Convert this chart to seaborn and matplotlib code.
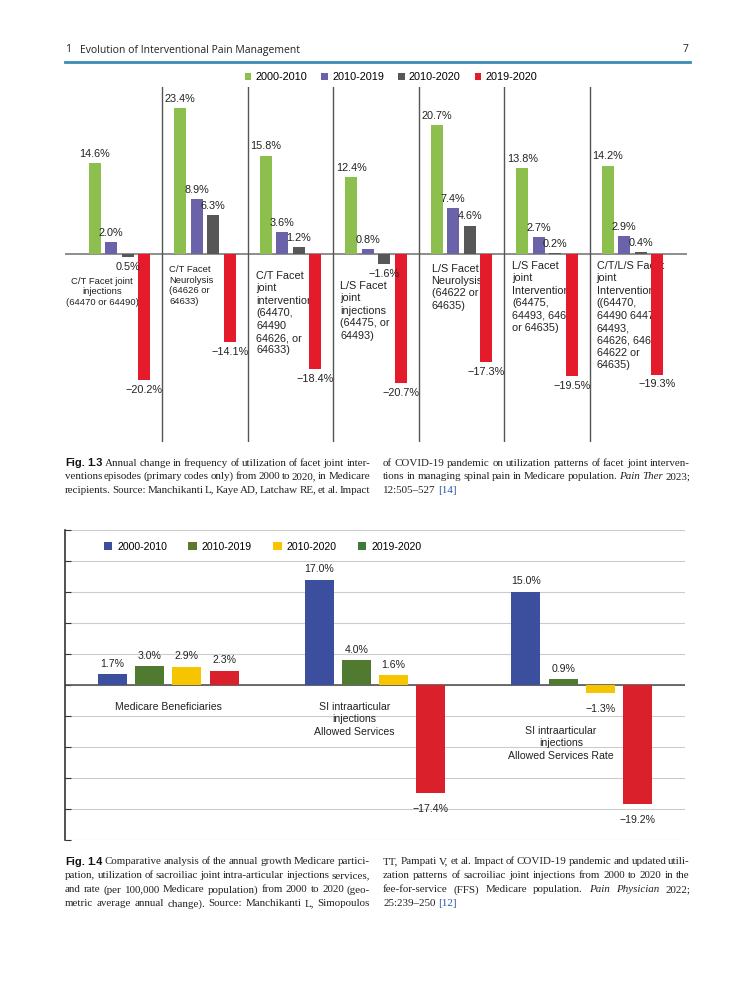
import matplotlib
matplotlib.use("Agg")
import matplotlib.pyplot as plt
from matplotlib.patches import Patch
import seaborn as sns
import pandas as pd

# ---------------- data: Fig 1.3 ----------------
periods_a = ["2000-2010", "2010-2019", "2010-2020", "2019-2020"]
groups_a = [
    "C/T Facet joint\ninjections\n(64470 or 64490)",
    "C/T Facet\nNeurolysis\n(64626 or\n64633)",
    "C/T Facet\njoint\ninterventions\n(64470,\n64490\n64626, or\n64633)",
    "L/S Facet\njoint\ninjections\n(64475, or\n64493)",
    "L/S Facet\nNeurolysis\n(64622 or\n64635)",
    "L/S Facet\njoint\nInterventions\n(64475,\n64493, 64622\nor 64635)",
    "C/T/L/S Facet\njoint\nInterventions\n((64470,\n64490 64475,\n64493,\n64626, 64633\n64622 or\n64635)",
]
a_2000_2010 = [14.6, 23.4, 15.8, 12.4, 20.7, 13.8, 14.2]
a_2010_2019 = [2.0, 8.9, 3.6, 0.8, 7.4, 2.7, 2.9]
a_2010_2020 = [-0.5, 6.3, 1.2, -1.6, 4.6, 0.2, 0.4]
a_2019_2020 = [-20.2, -14.1, -18.4, -20.7, -17.3, -19.5, -19.3]
# printed labels (the first grey bar is printed without sign in the source)
a_2010_2020_labels = ["0.5%", "6.3%", "1.2%", "\u22121.6%", "4.6%", "0.2%", "0.4%"]
colors_a = ["#8dbf4e", "#6a63aa", "#575757", "#e31b2b"]

# ---------------- data: Fig 1.4 ----------------
periods_b = ["2000-2010", "2010-2019", "2010-2020", "2019-2020"]
groups_b = [
    "Medicare Beneficiaries",
    "SI intraarticular\ninjections\nAllowed Services",
    "SI intraarticular\ninjections\nAllowed Services Rate",
]
b_2000_2010 = [1.7, 17.0, 15.0]
b_2010_2019 = [3.0, 4.0, 0.9]
b_2010_2020 = [2.9, 1.6, -1.3]
b_2019_2020 = [2.3, -17.4, -19.2]
colors_b = ["#3c4f9f", "#4f7a2f", "#f6c500", "#d9202b"]
legend_colors_b = ["#3c4f9f", "#5b7a2c", "#f6c500", "#3e7a3a"]


def fmt(v):
    return f"{v:.1f}%".replace("-", "\u2212")


def long_df(groups, periods, series):
    rows = []
    for p, vals in zip(periods, series):
        for g, v in zip(groups, vals):
            rows.append({"group": g, "period": p, "value": v})
    return pd.DataFrame(rows)


W, H = 752, 1000
fig = plt.figure(figsize=(W / 100, H / 100), dpi=100)
sans = "Liberation Sans"
serif = "Liberation Serif"


def fx(px):
    return px / W


def fy(py):
    return 1 - py / H


# ---------------- page header ----------------
fig.text(fx(65), fy(50), "1", fontsize=7.5, family="Open Sans", va="center", color="#222")
fig.text(fx(80), fy(50), "Evolution of Interventional Pain Management", fontsize=7.5,
         family="Open Sans", va="center", color="#222")
fig.text(fx(688), fy(50), "7", fontsize=7.5, family="Open Sans", va="center", ha="right", color="#222")
fig.add_artist(plt.Line2D([fx(65), fx(690)], [fy(62), fy(62)], color="#3a8cb6", lw=2))

# ---------------- Fig 1.3 chart ----------------
ax1 = fig.add_axes([fx(65), fy(442), fx(687) - fx(65), fy(87) - fy(442)])
df_a = long_df(groups_a, periods_a, [a_2000_2010, a_2010_2019, a_2010_2020, a_2019_2020])
sns.barplot(data=df_a, x="group", y="value", hue="period", order=groups_a, hue_order=periods_a,
            palette=colors_a, saturation=1, width=0.77, gap=0.27, legend=False, ax=ax1)
ax1.set_xlim(-0.637, 6.637)
ax1.set_ylim(-30.1, 26.8)
ax1.axis("off")
ax1.axhline(0, color="#7a7a7a", lw=1.2, zorder=2)
for i in range(len(groups_a) - 1):
    ax1.axvline(i + 0.5, color="#555555", lw=1, zorder=2)

labels_a = [[fmt(v) for v in a_2000_2010], [fmt(v) for v in a_2010_2019],
            a_2010_2020_labels, [fmt(v) for v in a_2019_2020]]
for cont, labs in zip(ax1.containers, labels_a):
    for bar, lab in zip(cont, labs):
        bar.set_zorder(3)
        h = bar.get_height()
        xc = bar.get_x() + bar.get_width() / 2
        if h >= 0:
            ax1.annotate(lab, (xc, h), xytext=(0, 3), textcoords="offset points",
                         ha="center", va="bottom", fontsize=7.8, family=sans, color="#222", zorder=4)
        else:
            ax1.annotate(lab, (xc, h), xytext=(0, -3.5), textcoords="offset points",
                         ha="center", va="top", fontsize=7.8, family=sans, color="#222", zorder=4)

# category texts sit under the zero line (drawn behind the red bars)
cat_dx = [-0.2, -0.42, -0.4, -0.42, -0.35, -0.41, -0.42]
cat_y = [-3.6, -1.7, -2.7, -4.3, -1.5, -1.1, -1.1]
cat_fs = [6.8, 6.8, 7.8, 7.8, 7.8, 7.8, 7.8]
cat_ls = [1.25, 1.25, 1.3, 1.3, 1.3, 1.3, 1.3]
for i, g in enumerate(groups_a):
    ax1.text(i + cat_dx[i], cat_y[i], g, ha="center" if i == 0 else "left", va="top",
             multialignment="center" if i == 0 else "left",
             fontsize=cat_fs[i], family=sans, color="#222", zorder=1, linespacing=cat_ls[i])

handles_a = [Patch(facecolor=c, edgecolor="none", label=p) for c, p in zip(colors_a, periods_a)]
fig.legend(handles=handles_a, loc="center", bbox_to_anchor=(fx(391), fy(77)), ncol=4,
           frameon=False, handlelength=0.6, handleheight=0.6, handletextpad=0.4,
           columnspacing=1.3, prop={"family": sans, "size": 7.8})

# ---------------- Fig 1.4 chart ----------------
ax2 = fig.add_axes([fx(65), fy(840), fx(685) - fx(65), fy(530) - fy(840)])
df_b = long_df(groups_b, periods_b, [b_2000_2010, b_2010_2019, b_2010_2020, b_2019_2020])
sns.barplot(data=df_b, x="group", y="value", hue="period", order=groups_b, hue_order=periods_b,
            palette=colors_b, saturation=1, width=0.72, gap=0.22, legend=False, ax=ax2)
ax2.set_xlim(-0.5, 2.5)
ax2.set_ylim(-25, 25)
ax2.set_yticks(range(-25, 30, 5))
ax2.set_yticklabels([])
ax2.set_xticks([])
ax2.set_xlabel("")
ax2.set_ylabel("")
for s in ["top", "right", "bottom"]:
    ax2.spines[s].set_visible(False)
ax2.spines["left"].set_color("#333333")
ax2.spines["left"].set_linewidth(1.2)
ax2.tick_params(axis="y", direction="in", length=4, color="#333333")
ax2.yaxis.grid(True, color="#cccccc", lw=0.8)
ax2.set_axisbelow(True)
ax2.axhline(0, color="#555555", lw=1.2, zorder=2)

for cont in ax2.containers:
    for bar in cont:
        bar.set_zorder(3)
        h = bar.get_height()
        xc = bar.get_x() + bar.get_width() / 2
        if h >= 0:
            ax2.annotate(fmt(h), (xc, h), xytext=(0, 4), textcoords="offset points",
                         ha="center", va="bottom", fontsize=7.6, family=sans, color="#222")
        else:
            ax2.annotate(fmt(h), (xc, h), xytext=(0, -8), textcoords="offset points",
                         ha="center", va="top", fontsize=7.6, family=sans, color="#222")

cat_b_x = [0.0, 0.9, 1.9]
cat_b_y = [-2.7, -2.7, -6.6]
for i, g in enumerate(groups_b):
    ax2.text(cat_b_x[i], cat_b_y[i], g, ha="center", va="top", multialignment="center",
             fontsize=7.6, family=sans, color="#222", linespacing=1.3)

handles_b = [Patch(facecolor=c, edgecolor="none", label=p) for c, p in zip(legend_colors_b, periods_b)]
ax2.legend(handles=handles_b, loc="center left", bbox_to_anchor=(fx(94), fy(547)),
           bbox_transform=fig.transFigure, ncol=4, frameon=False, handlelength=0.8,
           handleheight=0.8, handletextpad=0.5, columnspacing=2.0,
           prop={"family": sans, "size": 7.6})

# ---------------- captions (justified two-column text) ----------------
renderer = fig.canvas.get_renderer()
CAP_FS = 7.9
STYLES = {
    "b": dict(family=sans, weight="bold", color="#111"),
    "n": dict(family=serif, color="#222"),
    "i": dict(family=serif, style="italic", color="#222"),
    "l": dict(family=serif, color="#2a55a5"),
}


def text_width(t, st):
    tmp = fig.text(0, 0, t, fontsize=CAP_FS, **STYLES[st])
    w = tmp.get_window_extent(renderer).width
    tmp.remove()
    return w


def draw_line(x0, x1, y, segments, justify=True):
    words = []
    for txt, st in segments:
        for w in txt.split(" "):
            if w:
                words.append((w, st))
    widths = [text_width(w, st) for w, st in words]
    space = text_width("a a", "n") - text_width("aa", "n")
    if justify and len(words) > 1:
        space = (x1 - x0 - sum(widths)) / (len(words) - 1)
    x = x0
    for (w, st), wd in zip(words, widths):
        fig.text(fx(x), fy(y), w, fontsize=CAP_FS, va="center", ha="left", **STYLES[st])
        x += wd + space


cap13_left = [
    [("Fig. 1.3", "b"), ("Annual change in frequency of utilization of facet joint inter-", "n")],
    [("ventions episodes (primary codes only) from 2000 to 2020, in Medicare", "n")],
    [("recipients. Source: Manchikanti L, Kaye AD, Latchaw RE, et al. Impact", "n")],
]
cap13_right = [
    [("of COVID-19 pandemic on utilization patterns of facet joint interven-", "n")],
    [("tions in managing spinal pain in Medicare population.", "n"), ("Pain Ther", "i"), ("2023;", "n")],
    [("12:505\u2013527", "n"), ("[14]", "l")],
]
cap14_left = [
    [("Fig. 1.4", "b"), ("Comparative analysis of the annual growth Medicare partici-", "n")],
    [("pation, utilization of sacroiliac joint intra-articular injections services,", "n")],
    [("and rate (per 100,000 Medicare population) from 2000 to 2020 (geo-", "n")],
    [("metric average annual change). Source: Manchikanti L, Simopoulos", "n")],
]
cap14_right = [
    [("TT, Pampati V, et al. Impact of COVID-19 pandemic and updated utili-", "n")],
    [("zation patterns of sacroiliac joint injections from 2000 to 2020 in the", "n")],
    [("fee-for-service (FFS) Medicare population.", "n"), ("Pain Physician", "i"), ("2022;", "n")],
    [("25:239\u2013250", "n"), ("[12]", "l")],
]

for k, seg in enumerate(cap13_left):
    draw_line(65, 370, 463 + 13.6 * k, seg)
for k, seg in enumerate(cap13_right):
    draw_line(383, 690, 463 + 13.6 * k, seg, justify=k < len(cap13_right) - 1)
for k, seg in enumerate(cap14_left):
    draw_line(65, 370, 862 + 14 * k, seg)
for k, seg in enumerate(cap14_right):
    draw_line(383, 690, 862 + 14 * k, seg, justify=k < len(cap14_right) - 1)

fig.savefig("out.png", dpi=100, facecolor="white")
